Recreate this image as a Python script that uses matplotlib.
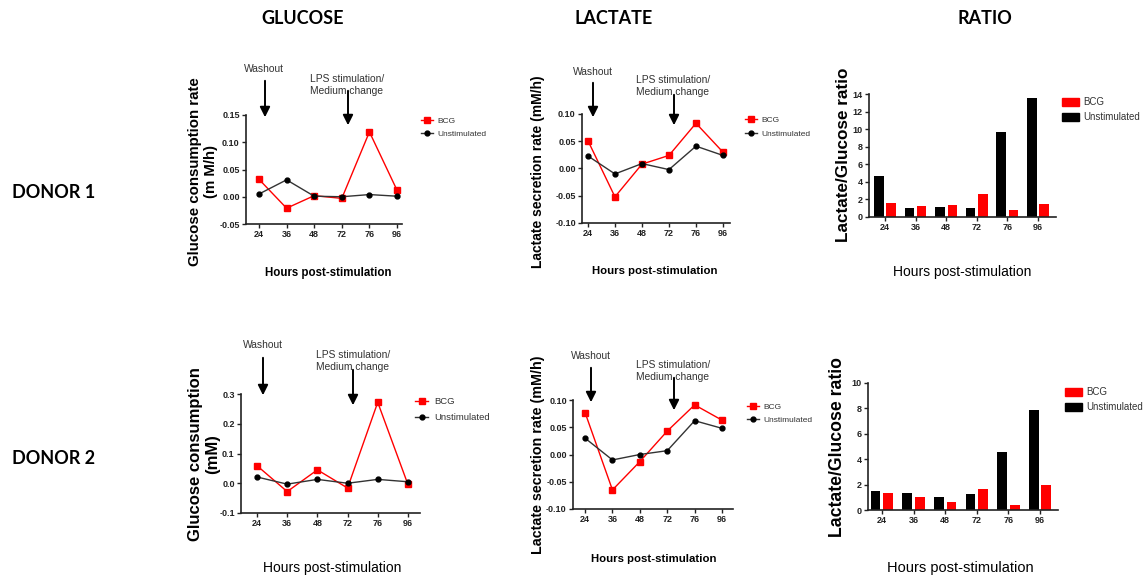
import matplotlib
matplotlib.use('Agg')
import matplotlib.pyplot as plt
import numpy as np
from matplotlib.patches import FancyArrowPatch, Patch

plt.rcParams['font.family'] = ['Liberation Sans', 'DejaVu Sans']
plt.rcParams['axes.unicode_minus'] = False

# Data
hours = ['24', '36', '48', '72', '76', '96']

d1_glc_bcg = [0.032, -0.021, 0.002, -0.003, 0.119, 0.012]
d1_glc_uns = [0.005, 0.031, 0.001, 0.000, 0.004, 0.001]
d1_lac_bcg = [0.051, -0.052, 0.008, 0.024, 0.083, 0.030]
d1_lac_uns = [0.023, -0.010, 0.009, -0.002, 0.041, 0.024]
d1_ratio_bcg = [1.65, 1.2, 1.35, 2.6, 0.78, 1.45]
d1_ratio_uns = [4.65, 1.0, 1.15, 1.05, 9.65, 13.6]

d2_glc_bcg = [0.059, -0.028, 0.045, -0.016, 0.272, -0.004]
d2_glc_uns = [0.021, -0.003, 0.013, 0.000, 0.013, 0.005]
d2_lac_bcg = [0.077, -0.065, -0.013, 0.043, 0.091, 0.063]
d2_lac_uns = [0.030, -0.010, 0.000, 0.007, 0.062, 0.048]
d2_ratio_bcg = [1.37, 1.05, 0.63, 1.68, 0.37, 1.95]
d2_ratio_uns = [1.53, 1.37, 1.03, 1.29, 4.58, 7.9]

W, H = 1145, 580
RED = '#ff0000'
DARK = '#333333'
x = np.arange(len(hours))

fig = plt.figure(figsize=(W / 100, H / 100), dpi=100)


def fx(px):
    return px / W


def fy(py):
    # pixel y measured from the top of the picture
    return 1 - py / H


def make_axes(left, top, right, bottom, xlim, ylim, yticks, yfmt):
    ax = fig.add_axes([fx(left), fy(bottom), (right - left) / W, (bottom - top) / H])
    ax.set_xlim(xlim)
    ax.set_ylim(ylim)
    ax.set_xticks(x)
    ax.set_xticklabels(hours)
    ax.set_yticks(yticks)
    ax.set_yticklabels([yfmt.format(v) for v in yticks])
    for s in ['top', 'right']:
        ax.spines[s].set_visible(False)
    for s in ['left', 'bottom']:
        ax.spines[s].set_linewidth(1.2)
        ax.spines[s].set_color('#222222')
    ax.tick_params(length=3, width=1, pad=1.5, labelsize=6.5, colors='#222222')
    for lbl in ax.get_xticklabels() + ax.get_yticklabels():
        lbl.set_fontweight('bold')
    return ax


def line_panel(ax, bcg, uns):
    h1, = ax.plot(x, bcg, color=RED, marker='s', ms=4, lw=1, label='BCG', clip_on=False)
    h2, = ax.plot(x, uns, color=DARK, marker='o', ms=3.5, mfc='black', mec='black',
                  lw=1, label='Unstimulated', clip_on=False)
    return [h1, h2]


def bar_panel(ax, bcg, uns):
    ax.bar(x - 0.2, uns, width=0.31, color='black')
    ax.bar(x + 0.2, bcg, width=0.31, color=RED)
    return [Patch(color=RED, label='BCG'), Patch(color='black', label='Unstimulated')]


def add_legend(ax, handles, left, top, fs=6, hl=1.4, spacing=0.5, pad=0.6):
    leg = ax.legend(handles=handles, loc='upper left', bbox_to_anchor=(fx(left), fy(top)),
                    bbox_transform=fig.transFigure, frameon=False, fontsize=fs,
                    borderpad=0, borderaxespad=0, handlelength=hl, handleheight=0.9,
                    handletextpad=pad, labelspacing=spacing)
    for t in leg.get_texts():
        t.set_color(DARK)


def arrow(xp, y0, y1):
    fig.add_artist(FancyArrowPatch((fx(xp), fy(y0)), (fx(xp), fy(y1)), transform=fig.transFigure,
                                   arrowstyle='-|>,head_length=0.6,head_width=0.3',
                                   mutation_scale=10, lw=1.4, color='black', zorder=5))


def note(xp, yp, txt):
    fig.text(fx(xp), fy(yp), txt, ha='center', va='center', fontsize=7.4, color=DARK,
             linespacing=1.2)


def ylabel(xp, yp, txt, fs, weight='bold'):
    fig.text(fx(xp), fy(yp), txt, rotation=90, ha='center', va='center', fontsize=fs,
             fontweight=weight, linespacing=1.2)


def xlabel(xp, yp, txt, fs, weight='bold'):
    fig.text(fx(xp), fy(yp), txt, ha='center', va='center', fontsize=fs, fontweight=weight)


# Column and row headers
head = dict(fontsize=13, fontweight='bold', family=['Lato', 'DejaVu Sans'], va='center')
fig.text(fx(303), fy(18), 'GLUCOSE', ha='center', **head)
fig.text(fx(614), fy(18), 'LACTATE', ha='center', **head)
fig.text(fx(985), fy(18), 'RATIO', ha='center', **head)
fig.text(fx(12), fy(192), 'DONOR 1', ha='left', **head)
fig.text(fx(12), fy(458), 'DONOR 2', ha='left', **head)

# Donor 1 - glucose
ax1 = make_axes(246, 115, 402, 224, (-0.47, 5.18), (-0.05, 0.15),
                [-0.05, 0.0, 0.05, 0.10, 0.15], '{:.2f}')
add_legend(ax1, line_panel(ax1, d1_glc_bcg, d1_glc_uns), 421, 117)
ylabel(203, 172, 'Glucose consumption rate\n(m M/h)', 10.8)
xlabel(328, 273, 'Hours post-stimulation', 8.3)
note(264, 69, 'Washout')
arrow(265, 78, 120)
note(347, 85, 'LPS stimulation/\nMedium change')
arrow(348, 88, 128)

# Donor 1 - lactate
ax2 = make_axes(582, 114, 730, 223, (-0.22, 5.26), (-0.10, 0.10),
                [-0.10, -0.05, 0.0, 0.05, 0.10], '{:.2f}')
add_legend(ax2, line_panel(ax2, d1_lac_bcg, d1_lac_uns), 745, 116, spacing=0.7)
ylabel(538, 172, 'Lactate secretion rate (mM/h)', 10)
xlabel(655, 271, 'Hours post-stimulation', 8.2)
note(593, 72, 'Washout')
arrow(593, 80, 120)
note(673, 86, 'LPS stimulation/\nMedium change')
arrow(674, 92, 128)

# Donor 1 - ratio
ax3 = make_axes(869, 94, 1056, 217, (-0.52, 5.59), (0, 14),
                [0, 2, 4, 6, 8, 10, 12, 14], '{:d}')
add_legend(ax3, bar_panel(ax3, d1_ratio_bcg, d1_ratio_uns), 1062, 97, fs=7, hl=1.7,
           spacing=0.55, pad=0.45)
ylabel(843, 155, 'Lactate/Glucose ratio', 12.3)
xlabel(962, 272, 'Hours post-stimulation', 10, 'normal')

# Donor 2 - glucose
ax4 = make_axes(241, 394, 420, 513, (-0.53, 5.4), (-0.1, 0.3),
                [-0.1, 0.0, 0.1, 0.2, 0.3], '{:.1f}')
add_legend(ax4, line_panel(ax4, d2_glc_bcg, d2_glc_uns), 415, 397, fs=6.8, spacing=0.75)
ylabel(204, 454, 'Glucose consumption\n(mM)', 12)
xlabel(332, 568, 'Hours post-stimulation', 10, 'normal')
note(263, 345, 'Washout')
arrow(263, 355, 398)
note(353, 361, 'LPS stimulation/\nMedium change')
arrow(353, 367, 408)

# Donor 2 - lactate
ax5 = make_axes(573, 400, 733, 509, (-0.44, 5.4), (-0.10, 0.10),
                [-0.10, -0.05, 0.0, 0.05, 0.10], '{:.2f}')
add_legend(ax5, line_panel(ax5, d2_lac_bcg, d2_lac_uns), 747, 403)
ylabel(538, 455, 'Lactate secretion rate (mM/h)', 10.3)
xlabel(654, 559, 'Hours post-stimulation', 8.2)
note(591, 356, 'Washout')
arrow(591, 365, 405)
note(673, 371, 'LPS stimulation/\nMedium change')
arrow(674, 375, 413)

# Donor 2 - ratio
ax6 = make_axes(868, 383, 1058, 510, (-0.44, 5.57), (0, 10),
                [0, 2, 4, 6, 8, 10], '{:d}')
add_legend(ax6, bar_panel(ax6, d2_ratio_bcg, d2_ratio_uns), 1065, 387, fs=7, hl=1.7,
           spacing=0.55, pad=0.45)
ylabel(838, 447, 'Lactate/Glucose ratio', 12.7)
xlabel(960, 568, 'Hours post-stimulation', 10.5, 'normal')

fig.savefig('out.png', dpi=100)
